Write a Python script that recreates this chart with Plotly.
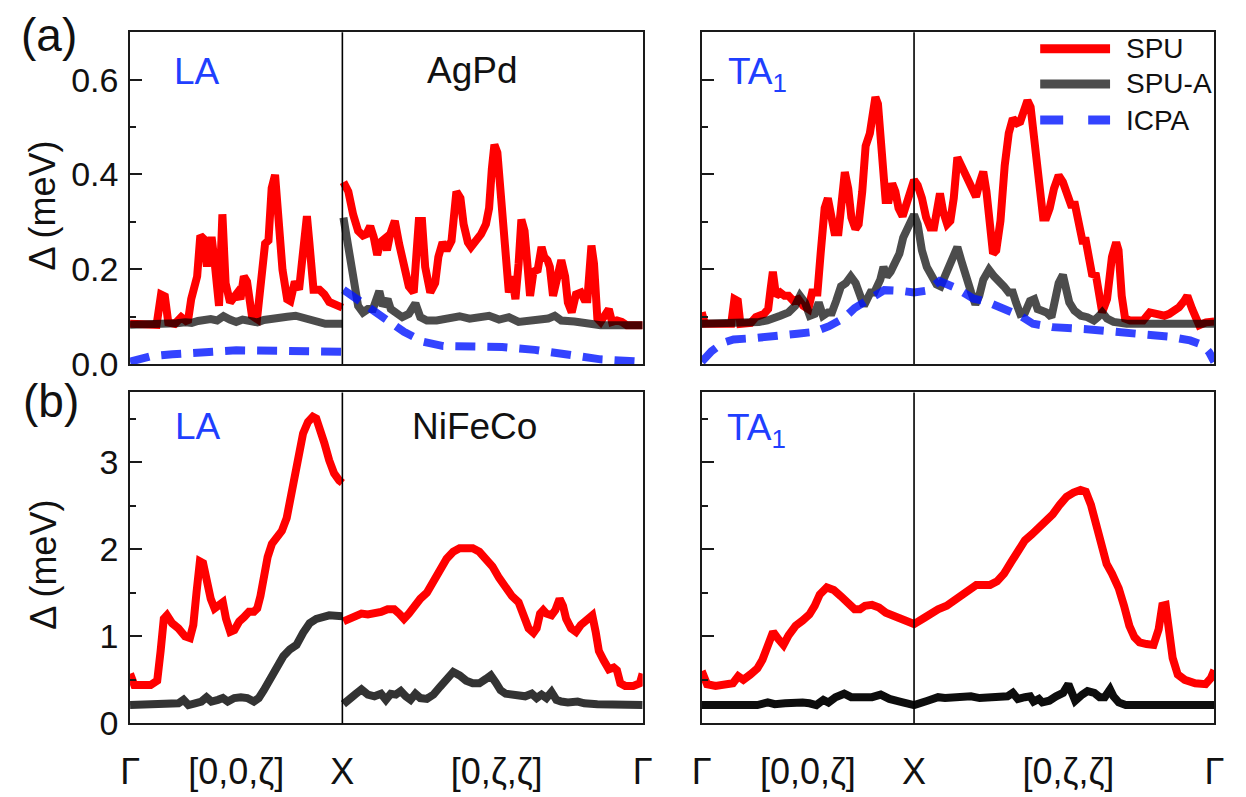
import math
import plotly.graph_objects as go

# path coordinate: Gamma -> X along [0,0,zeta] spans 0..1, X -> Gamma along [0,zeta,zeta] spans 1..1+sqrt(2)
Q_X = 1.0
Q_END = 1.0 + math.sqrt(2.0)

path_tickvals = [0.0, 0.5, Q_X, 1.727, Q_END]
path_ticktext = ["Γ", "[0,0,ζ]", "X", "[0,ζ,ζ]", "Γ"]

# ---------------- (a) AgPd, LA branch ----------------
agpd_la_spu_q = [0.0, 0.125, 0.146, 0.164, 0.180, 0.211, 0.241, 0.272, 0.288, 0.303, 0.316, 0.331,
                 0.347, 0.362, 0.384, 0.399, 0.419, 0.435, 0.450, 0.471, 0.489, 0.505, 0.520, 0.536,
                 0.551, 0.574, 0.598, 0.621, 0.636, 0.652, 0.667, 0.683, 0.698, 0.718, 0.740, 0.755,
                 0.776, 0.796, 0.814, 0.833, 0.845, 0.864, 0.892, 0.915, 0.938, 0.969, 1.0,
                 None,
                 1.005, 1.028, 1.051, 1.074, 1.097, 1.113, 1.131, 1.148, 1.164, 1.179, 1.198, 1.210,
                 1.225, 1.247, 1.267, 1.290, 1.313, 1.336, 1.360, 1.375, 1.390, 1.414, 1.437, 1.452,
                 1.472, 1.491, 1.514, 1.537, 1.556, 1.571, 1.591, 1.606, 1.630, 1.653, 1.676, 1.691,
                 1.704, 1.716, 1.730, 1.741, 1.753, 1.769, 1.784, 1.799, 1.815, 1.830, 1.843, 1.858,
                 1.870, 1.884, 1.900, 1.920, 1.938, 1.951, 1.966, 1.977, 1.992, 2.008, 2.031, 2.049,
                 2.062, 2.080, 2.100, 2.123, 2.139, 2.154, 2.173, 2.185, 2.201, 2.216, 2.239, 2.255,
                 2.270, 2.293, 2.316, 2.340, 2.414]
agpd_la_spu_d = [0.085, 0.083, 0.147, 0.143, 0.088, 0.085, 0.099, 0.088, 0.137, 0.164, 0.185, 0.271,
                 0.264, 0.206, 0.268, 0.212, 0.123, 0.316, 0.171, 0.130, 0.143, 0.150, 0.137, 0.185,
                 0.174, 0.102, 0.095, 0.185, 0.254, 0.261, 0.371, 0.399, 0.323, 0.199, 0.137, 0.133,
                 0.174, 0.157, 0.233, 0.312, 0.254, 0.157, 0.157, 0.147, 0.131, 0.123, 0.119,
                 None,
                 0.384, 0.364, 0.315, 0.281, 0.271, 0.274, 0.291, 0.267, 0.230, 0.257, 0.264, 0.240,
                 0.274, 0.302, 0.254, 0.212, 0.164, 0.151, 0.302, 0.302, 0.205, 0.151, 0.171, 0.226,
                 0.257, 0.240, 0.260, 0.364, 0.350, 0.295, 0.257, 0.247, 0.260, 0.274, 0.295, 0.329,
                 0.412, 0.463, 0.446, 0.384, 0.302, 0.199, 0.151, 0.185, 0.137, 0.212, 0.305, 0.281,
                 0.199, 0.144, 0.195, 0.199, 0.247, 0.226, 0.219, 0.205, 0.144, 0.171, 0.219, 0.185,
                 0.130, 0.109, 0.147, 0.151, 0.137, 0.137, 0.250, 0.212, 0.096, 0.089, 0.109, 0.116,
                 0.089, 0.092, 0.089, 0.082, 0.082]

agpd_la_spua_q = [0.0, 0.10, 0.18, 0.22, 0.26, 0.29, 0.32, 0.35, 0.38, 0.41, 0.44, 0.47, 0.50, 0.53,
                  0.56, 0.60, 0.63, 0.66, 0.70, 0.74, 0.78, 0.81, 0.84, 0.88, 0.92, 1.0,
                  None,
                  1.005, 1.028, 1.051, 1.074, 1.097, 1.120, 1.144, 1.159, 1.174, 1.190, 1.213, 1.228,
                  1.252, 1.282, 1.313, 1.344, 1.367, 1.398, 1.444, 1.491, 1.552, 1.599, 1.645, 1.691,
                  1.738, 1.784, 1.830, 1.877, 1.923, 1.969, 2.000, 2.031, 2.093, 2.154, 2.216, 2.414]
agpd_la_spua_d = [0.083, 0.083, 0.083, 0.086, 0.088, 0.087, 0.091, 0.093, 0.095, 0.092, 0.101, 0.094,
                  0.089, 0.094, 0.091, 0.088, 0.093, 0.096, 0.097, 0.100, 0.102, 0.098, 0.093, 0.087,
                  0.085, 0.085,
                  None,
                  0.309, 0.247, 0.178, 0.123, 0.109, 0.116, 0.116, 0.137, 0.154, 0.123, 0.137, 0.116,
                  0.106, 0.099, 0.106, 0.128, 0.099, 0.092, 0.092, 0.096, 0.101, 0.096, 0.097, 0.102,
                  0.094, 0.099, 0.089, 0.092, 0.092, 0.096, 0.102, 0.092, 0.090, 0.087, 0.082, 0.082]

agpd_la_icpa_q = [0.0, 0.05, 0.10, 0.20, 0.33, 0.50, 0.70, 1.0,
                  None,
                  1.005, 1.074, 1.136, 1.213, 1.290, 1.383, 1.475, 1.599, 1.753, 1.907, 2.062, 2.216,
                  2.414]
agpd_la_icpa_d = [0.005, 0.012, 0.017, 0.021, 0.026, 0.029, 0.028, 0.026,
                  None,
                  0.157, 0.137, 0.116, 0.092, 0.068, 0.047, 0.038, 0.037, 0.036, 0.030, 0.020, 0.010,
                  0.005]

# ---------------- (a) AgPd, TA1 branch ----------------
agpd_ta_spu_q = [0.000, 0.015, 0.139, 0.154, 0.170, 0.182, 0.231, 0.255, 0.293, 0.313, 0.324, 0.335,
                 0.350, 0.370, 0.390, 0.409, 0.432, 0.455, 0.478, 0.502, 0.520, 0.545, 0.560, 0.579,
                 0.594, 0.610, 0.625, 0.644, 0.659, 0.674, 0.690, 0.705, 0.724, 0.739, 0.756, 0.772,
                 0.792, 0.806, 0.818, 0.830, 0.841, 0.853, 0.866, 0.881, 0.897, 0.912, 0.927, 0.946,
                 0.975, 1.000,
                 1.017, 1.037, 1.057, 1.076, 1.094, 1.106, 1.122, 1.137, 1.156, 1.171, 1.187, 1.204,
                 1.222, 1.245, 1.269, 1.292, 1.310, 1.326, 1.341, 1.356, 1.372, 1.387, 1.407, 1.427,
                 1.446, 1.465, 1.485, 1.500, 1.515, 1.534, 1.549, 1.562, 1.577, 1.593, 1.608, 1.623,
                 1.639, 1.659, 1.681, 1.701, 1.716, 1.739, 1.758, 1.778, 1.793, 1.809, 1.824, 1.840,
                 1.855, 1.870, 1.886, 1.909, 1.932, 1.952, 1.963, 1.978, 1.994, 2.017, 2.048, 2.079,
                 2.110, 2.133, 2.156, 2.179, 2.202, 2.225, 2.248, 2.272, 2.287, 2.310, 2.343, 2.375,
                 2.414]
agpd_ta_spu_d = [0.109, 0.085, 0.085, 0.137, 0.133, 0.085, 0.087, 0.099, 0.106, 0.116, 0.157, 0.195,
                 0.144, 0.151, 0.144, 0.144, 0.133, 0.137, 0.123, 0.116, 0.151, 0.151, 0.233, 0.329,
                 0.350, 0.302, 0.278, 0.278, 0.350, 0.405, 0.370, 0.309, 0.285, 0.295, 0.364, 0.460,
                 0.487, 0.542, 0.563, 0.549, 0.480, 0.405, 0.346, 0.346, 0.381, 0.364, 0.329, 0.312,
                 0.350, 0.388,
                 0.377, 0.350, 0.309, 0.288, 0.288, 0.329, 0.360, 0.322, 0.295, 0.302, 0.350, 0.436,
                 0.419, 0.398, 0.370, 0.353, 0.384, 0.406, 0.364, 0.281, 0.233, 0.240, 0.302, 0.419,
                 0.487, 0.518, 0.508, 0.511, 0.535, 0.556, 0.542, 0.487, 0.419, 0.336, 0.309, 0.309,
                 0.329, 0.370, 0.398, 0.384, 0.364, 0.336, 0.336, 0.295, 0.260, 0.260, 0.212, 0.185,
                 0.192, 0.144, 0.109, 0.137, 0.226, 0.257, 0.240, 0.144, 0.096, 0.092, 0.092, 0.092,
                 0.109, 0.106, 0.106, 0.102, 0.106, 0.113, 0.120, 0.133, 0.144, 0.116, 0.082, 0.088,
                 0.090]

agpd_ta_spua_q = [0.000, 0.208, 0.270, 0.309, 0.347, 0.370, 0.409, 0.440, 0.463, 0.486, 0.509, 0.532,
                  0.551, 0.571, 0.594, 0.613, 0.633, 0.656, 0.679, 0.702, 0.725, 0.741, 0.764, 0.779,
                  0.795, 0.813, 0.826, 0.841, 0.856, 0.872, 0.890, 0.910, 0.931, 0.949, 0.975, 1.000,
                  1.017, 1.037, 1.060, 1.083, 1.106, 1.125, 1.145, 1.168, 1.187, 1.204, 1.222, 1.245,
                  1.269, 1.289, 1.307, 1.326, 1.353, 1.377, 1.400, 1.423, 1.446, 1.465, 1.480, 1.500,
                  1.523, 1.546, 1.566, 1.582, 1.600, 1.623, 1.647, 1.662, 1.681, 1.701, 1.716, 1.731,
                  1.755, 1.786, 1.816, 1.847, 1.866, 1.886, 1.909, 1.940, 2.002, 2.414]
agpd_ta_spua_d = [0.085, 0.085, 0.089, 0.092, 0.096, 0.102, 0.109, 0.123, 0.144, 0.130, 0.102, 0.106,
                  0.130, 0.102, 0.109, 0.109, 0.133, 0.164, 0.171, 0.185, 0.171, 0.151, 0.123, 0.137,
                  0.151, 0.151, 0.164, 0.178, 0.205, 0.185, 0.195, 0.212, 0.233, 0.267, 0.290, 0.315,
                  0.295, 0.240, 0.205, 0.185, 0.168, 0.164, 0.185, 0.212, 0.233, 0.247, 0.219, 0.178,
                  0.151, 0.126, 0.144, 0.178, 0.199, 0.185, 0.171, 0.164, 0.151, 0.151, 0.130, 0.106,
                  0.109, 0.133, 0.137, 0.116, 0.113, 0.109, 0.099, 0.130, 0.171, 0.188, 0.157, 0.130,
                  0.113, 0.102, 0.099, 0.092, 0.099, 0.109, 0.096, 0.089, 0.085, 0.085]

agpd_ta_icpa_q = [0.000, 0.046, 0.100, 0.150, 0.250, 0.360, 0.450, 0.530, 0.600, 0.670, 0.720, 0.800,
                  0.860, 0.950, 1.000, 1.060, 1.120, 1.200, 1.280, 1.340, 1.430, 1.500, 1.560, 1.650,
                  1.800, 1.900, 1.960, 2.080, 2.200, 2.300, 2.360, 2.390, 2.414]
agpd_ta_icpa_d = [0.005, 0.027, 0.045, 0.052, 0.055, 0.058, 0.064, 0.068, 0.080, 0.097, 0.118, 0.140,
                  0.156, 0.154, 0.151, 0.155, 0.175, 0.160, 0.138, 0.132, 0.116, 0.102, 0.085, 0.078,
                  0.074, 0.070, 0.068, 0.063, 0.058, 0.050, 0.040, 0.025, 0.005]

# ---------------- (b) NiFeCo, LA branch ----------------
nifeco_la_spu_q = [0.0, 0.020, 0.097, 0.128, 0.144, 0.159, 0.174, 0.198, 0.228, 0.259, 0.282, 0.298,
                   0.313, 0.329, 0.344, 0.360, 0.380, 0.398, 0.421, 0.437, 0.452, 0.472, 0.491, 0.514,
                   0.537, 0.560, 0.583, 0.599, 0.614, 0.630, 0.648, 0.668, 0.691, 0.715, 0.738, 0.753,
                   0.769, 0.784, 0.799, 0.815, 0.838, 0.861, 0.877, 0.892, 0.915, 0.938, 0.961, 0.985,
                   1.0,
                   None,
                   1.005, 1.028, 1.059, 1.090, 1.120, 1.151, 1.182, 1.213, 1.244, 1.267, 1.290, 1.313,
                   1.336, 1.367, 1.398, 1.429, 1.460, 1.491, 1.522, 1.552, 1.583, 1.614, 1.645, 1.676,
                   1.707, 1.738, 1.769, 1.799, 1.830, 1.853, 1.877, 1.900, 1.915, 1.931, 1.946, 1.961,
                   1.985, 2.003, 2.023, 2.039, 2.054, 2.077, 2.100, 2.123, 2.147, 2.177, 2.193, 2.208,
                   2.231, 2.255, 2.278, 2.293, 2.309, 2.332, 2.370, 2.401, 2.414]
nifeco_la_spu_d = [0.57, 0.44, 0.44, 0.49, 0.83, 1.20, 1.24, 1.15, 1.09, 1.00, 0.98, 1.13,
                   1.50, 1.86, 1.84, 1.65, 1.43, 1.32, 1.35, 1.39, 1.20, 1.05, 1.07, 1.17,
                   1.22, 1.28, 1.28, 1.32, 1.46, 1.69, 1.91, 2.06, 2.14, 2.21, 2.36, 2.55,
                   2.77, 3.00, 3.18, 3.33, 3.46, 3.52, 3.50, 3.41, 3.22, 3.02, 2.87, 2.79,
                   2.76,
                   None,
                   1.17, 1.20, 1.24, 1.26, 1.25, 1.26, 1.28, 1.31, 1.31, 1.26, 1.20, 1.26,
                   1.35, 1.43, 1.50, 1.63, 1.78, 1.89, 1.97, 2.01, 2.01, 2.01, 1.97, 1.89,
                   1.80, 1.67, 1.56, 1.46, 1.39, 1.24, 1.09, 1.04, 1.09, 1.26, 1.30, 1.26,
                   1.24, 1.30, 1.43, 1.35, 1.20, 1.09, 1.05, 1.13, 1.17, 1.24, 1.05, 0.83,
                   0.72, 0.62, 0.64, 0.61, 0.46, 0.43, 0.43, 0.46, 0.57]

nifeco_la_spua_q = [0.0, 0.167, 0.198, 0.228, 0.252, 0.275, 0.306, 0.336, 0.360, 0.383, 0.414, 0.437,
                    0.460, 0.491, 0.522, 0.552, 0.583, 0.606, 0.630, 0.660, 0.691, 0.722, 0.753, 0.784,
                    0.815, 0.846, 0.877, 0.907, 0.938, 1.0,
                    None,
                    1.005, 1.035, 1.059, 1.090, 1.120, 1.151, 1.182, 1.205, 1.228, 1.252, 1.275, 1.298,
                    1.321, 1.344, 1.367, 1.398, 1.429, 1.460, 1.491, 1.522, 1.552, 1.583, 1.614, 1.645,
                    1.676, 1.699, 1.722, 1.745, 1.769, 1.799, 1.830, 1.861, 1.892, 1.915, 1.938, 1.961,
                    1.985, 2.008, 2.031, 2.062, 2.108, 2.139, 2.201, 2.278, 2.414]
nifeco_la_spua_d = [0.21, 0.21, 0.22, 0.23, 0.27, 0.21, 0.23, 0.25, 0.30, 0.25, 0.27, 0.29,
                    0.25, 0.29, 0.30, 0.29, 0.25, 0.29, 0.38, 0.51, 0.64, 0.77, 0.85, 0.90,
                    1.04, 1.15, 1.20, 1.22, 1.24, 1.23,
                    None,
                    0.22, 0.27, 0.33, 0.39, 0.33, 0.31, 0.34, 0.27, 0.34, 0.33, 0.37, 0.31,
                    0.27, 0.34, 0.29, 0.28, 0.33, 0.42, 0.51, 0.59, 0.55, 0.49, 0.46, 0.46,
                    0.51, 0.55, 0.47, 0.38, 0.34, 0.33, 0.34, 0.31, 0.34, 0.29, 0.33, 0.29,
                    0.36, 0.27, 0.25, 0.24, 0.25, 0.23, 0.22, 0.21, 0.21]

# ---------------- (b) NiFeCo, TA1 branch ----------------
nifeco_ta_spu_q = [0.000, 0.025, 0.065, 0.115, 0.147, 0.172, 0.196, 0.229, 0.262, 0.286, 0.311, 0.336,
                   0.360, 0.385, 0.409, 0.442, 0.475, 0.507, 0.532, 0.556, 0.589, 0.622, 0.655, 0.687,
                   0.720, 0.745, 0.769, 0.802, 0.835, 0.867, 0.908, 0.949, 1.000,
                   1.047, 1.080, 1.113, 1.154, 1.195, 1.227, 1.260, 1.293, 1.326, 1.358, 1.391, 1.424,
                   1.457, 1.489, 1.522, 1.555, 1.588, 1.620, 1.653, 1.686, 1.718, 1.751, 1.784, 1.809,
                   1.833, 1.858, 1.882, 1.907, 1.932, 1.964, 1.989, 2.014, 2.038, 2.062, 2.095, 2.128,
                   2.152, 2.169, 2.185, 2.201, 2.218, 2.242, 2.275, 2.324, 2.373, 2.398, 2.414]
nifeco_ta_spu_d = [0.60, 0.45, 0.43, 0.44, 0.46, 0.54, 0.50, 0.56, 0.63, 0.73, 0.90, 1.05,
                   0.97, 0.90, 1.01, 1.12, 1.18, 1.25, 1.35, 1.48, 1.56, 1.53, 1.46, 1.38,
                   1.31, 1.31, 1.35, 1.36, 1.33, 1.27, 1.23, 1.18, 1.14,
                   1.21, 1.27, 1.31, 1.35, 1.42, 1.48, 1.55, 1.59, 1.59, 1.59, 1.63, 1.72,
                   1.85, 1.98, 2.10, 2.17, 2.25, 2.30, 2.40, 2.51, 2.60, 2.65, 2.68, 2.66,
                   2.51, 2.28, 2.04, 1.83, 1.72, 1.55, 1.35, 1.12, 0.99, 0.93, 0.91, 0.90,
                   1.08, 1.35, 1.36, 1.12, 0.75, 0.56, 0.50, 0.46, 0.45, 0.52, 0.61]

nifeco_ta_spua_q = [0.000, 0.262, 0.311, 0.344, 0.393, 0.426, 0.475, 0.507, 0.540, 0.573, 0.597, 0.630,
                    0.671, 0.704, 0.753, 0.802, 0.843, 0.884, 0.933, 0.982, 1.000,
                    1.064, 1.113, 1.146, 1.195, 1.268, 1.309, 1.358, 1.408, 1.440, 1.465, 1.489, 1.522,
                    1.547, 1.563, 1.588, 1.604, 1.637, 1.669, 1.702, 1.727, 1.743, 1.759, 1.792, 1.817,
                    1.849, 1.874, 1.898, 1.923, 1.939, 1.964, 1.997, 2.414]
nifeco_ta_spua_d = [0.21, 0.21, 0.24, 0.22, 0.23, 0.24, 0.24, 0.23, 0.21, 0.27, 0.24, 0.30,
                    0.34, 0.30, 0.30, 0.30, 0.33, 0.28, 0.25, 0.22, 0.21,
                    0.26, 0.30, 0.29, 0.30, 0.31, 0.29, 0.29, 0.30, 0.31, 0.35, 0.28, 0.30,
                    0.31, 0.25, 0.28, 0.24, 0.26, 0.31, 0.35, 0.45, 0.35, 0.26, 0.33, 0.37,
                    0.35, 0.30, 0.30, 0.39, 0.31, 0.24, 0.21, 0.21]

# ---------------- styling ----------------
FONT = "Liberation Sans, Arial, Helvetica, sans-serif"
RED = "#ff0000"
GREY_A = "rgba(0,0,0,0.70)"
GREY_B_LA = "rgba(0,0,0,0.80)"
GREY_B_TA = "rgba(0,0,0,0.95)"
BLUE = "rgba(0,20,255,0.80)"
LABEL_BLUE = "#1f3fff"
FRAME = "#1a1a1a"
LW = 8
DASH = "20px,12px"

fig = go.Figure()


def add_curve(q, d, color, axis, dash="solid"):
    xa, ya = axis
    fig.add_trace(go.Scatter(x=q, y=d, mode="lines", xaxis=xa, yaxis=ya,
                             line=dict(color=color, width=LW, dash=dash),
                             connectgaps=False, showlegend=False, hoverinfo="skip"))


TL, TR, BL, BR = ("x", "y"), ("x2", "y2"), ("x3", "y3"), ("x4", "y4")

add_curve(agpd_la_spu_q, agpd_la_spu_d, RED, TL)
add_curve(agpd_la_spua_q, agpd_la_spua_d, GREY_A, TL)
add_curve(agpd_la_icpa_q, agpd_la_icpa_d, BLUE, TL, DASH)

add_curve(agpd_ta_spu_q, agpd_ta_spu_d, RED, TR)
add_curve(agpd_ta_spua_q, agpd_ta_spua_d, GREY_A, TR)
add_curve(agpd_ta_icpa_q, agpd_ta_icpa_d, BLUE, TR, DASH)

add_curve(nifeco_la_spu_q, nifeco_la_spu_d, RED, BL)
add_curve(nifeco_la_spua_q, nifeco_la_spua_d, GREY_B_LA, BL)

add_curve(nifeco_ta_spu_q, nifeco_ta_spu_d, RED, BR)
add_curve(nifeco_ta_spua_q, nifeco_ta_spua_d, GREY_B_TA, BR)

W, H = 1246, 797
X_LEFT = [122 / W, 643 / W]
X_RIGHT = [703 / W, 1224 / W]
Y_TOP = [1 - 373 / H, 1 - 33 / H]
Y_BOT = [1 - 741 / H, 1 - 402 / H]


def xaxis(domain, anchor, labels):
    ax = dict(domain=domain, anchor=anchor, range=[0, Q_END + 1e-4],
              showline=True, mirror=True, linewidth=1.6, linecolor=FRAME,
              showgrid=False, zeroline=False, ticks="", fixedrange=True)
    if labels:
        ax.update(tickmode="array", tickvals=path_tickvals, ticktext=path_ticktext,
                  tickfont=dict(family=FONT, size=36, color="#111"), ticklabelstandoff=16)
    else:
        ax.update(showticklabels=False)
    return ax


def yaxis(domain, anchor, rng, dtick, minor, fmt, labels):
    return dict(domain=domain, anchor=anchor, range=rng, showline=True, mirror=True,
                linewidth=1.6, linecolor=FRAME, showgrid=False, zeroline=False,
                ticks="inside", ticklen=12, tickwidth=1.6, tickcolor=FRAME,
                tick0=0, dtick=dtick, tickformat=fmt, showticklabels=labels,
                tickfont=dict(family=FONT, size=34, color="#111"), ticklabelstandoff=3,
                minor=dict(dtick=minor, ticks="inside", ticklen=6, tickwidth=1.6, tickcolor=FRAME,
                           showgrid=False),
                fixedrange=True)


fig.update_layout(
    width=W, height=H, margin=dict(l=0, r=0, t=0, b=0),
    paper_bgcolor="white", plot_bgcolor="white", showlegend=False,
    xaxis=xaxis(X_LEFT, "y", False),
    xaxis2=xaxis(X_RIGHT, "y2", False),
    xaxis3=xaxis(X_LEFT, "y3", True),
    xaxis4=xaxis(X_RIGHT, "y4", True),
    yaxis=yaxis(Y_TOP, "x", [0, 0.7], 0.2, 0.1, ".1f", True),
    yaxis2=yaxis(Y_TOP, "x2", [0, 0.7], 0.2, 0.1, ".1f", False),
    yaxis3=yaxis(Y_BOT, "x3", [0, 3.8], 1, 0.5, "d", True),
    yaxis4=yaxis(Y_BOT, "x4", [0, 3.8], 1, 0.5, "d", False),
)

# vertical separator at the X point in every panel
for xr, yr in (TL, TR, BL, BR):
    fig.add_shape(type="line", xref=xr, yref=f"{yr} domain", x0=Q_X, x1=Q_X, y0=0, y1=1,
                  line=dict(color="black", width=1.6))

# legend drawn inside the upper-right panel
legend_rows = [("SPU", RED, "solid", 50), ("SPU-A", GREY_A, "solid", 86), ("ICPA", BLUE, "23px,25px", 123)]
for name, color, dash, ypx in legend_rows:
    yy = 1 - ypx / H
    fig.add_shape(type="line", xref="paper", yref="paper", x0=1047 / W, x1=1118 / W, y0=yy, y1=yy,
                  line=dict(color=color, width=9, dash=dash))
    fig.add_annotation(xref="paper", yref="paper", x=1132 / W, y=yy, text=name, showarrow=False,
                       xanchor="left", yanchor="middle", font=dict(family=FONT, size=28, color="#111"))


def label(text, xpx, ypx, size, color="#111", xanchor="center", angle=0):
    fig.add_annotation(xref="paper", yref="paper", x=xpx / W, y=1 - ypx / H, text=text,
                       showarrow=False, xanchor=xanchor, yanchor="middle", textangle=angle,
                       font=dict(family=FONT, size=size, color=color))


label("(a)", 40, 36, 46)
label("(b)", 42, 411, 46)
label("Δ (meV)", 34, 210, 36, angle=-90)
label("Δ (meV)", 34, 578, 36, angle=-90)
label("LA", 190, 73, 37, LABEL_BLUE)
label("AgPd", 470, 72, 37)
label("TA<sub>1</sub>", 728, 76, 37, LABEL_BLUE, xanchor="left")
label("LA", 191, 437, 37, LABEL_BLUE)
label("NiFeCo", 472, 437, 37)
label("TA<sub>1</sub>", 727, 440, 37, LABEL_BLUE, xanchor="left")

fig.write_html("out.html")
